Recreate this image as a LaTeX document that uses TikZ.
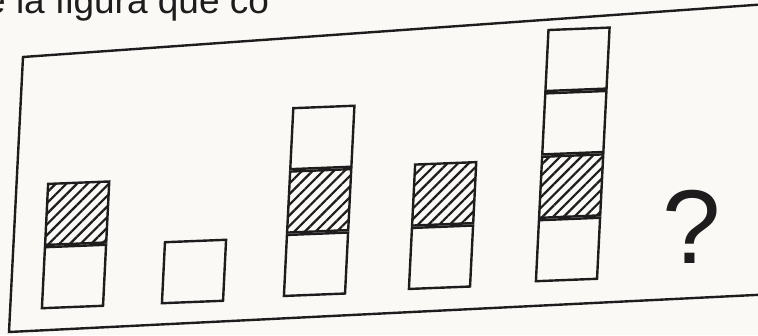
\documentclass[tikz,border=0pt]{standalone}
\usepackage{fontspec}
\setmainfont{Liberation Sans}
\usetikzlibrary{positioning,patterns.meta}
\definecolor{paper}{RGB}{251,249,246}
\definecolor{ink}{RGB}{30,28,28}
\tikzset{
  frameline/.style={ink,line width=2.4pt,line join=miter},
  cell/.style={draw=ink,line width=2.4pt,minimum width=61pt,minimum height=61pt,
               inner sep=0pt,xslant=0.05,yslant=0.04,transform shape},
  hatched/.style={cell,pattern={Lines[angle=45,distance=7.5pt,line width=2.2pt]},
                  pattern color=ink},
  ask/.style={font=\fontsize{105}{105}\selectfont,text=ink,inner sep=0pt},
  header/.style={font=\fontsize{37}{37}\selectfont,text=ink,inner sep=0pt},
}

\begin{document}
\begin{tikzpicture}[x=1pt,y=1pt]
  \fill[paper] (0,0) rectangle (758,335);
  \useasboundingbox (0,0) rectangle (758,335);
  \clip (0,0) rectangle (758,335);

  % cut-off line of the question above the frame
  \node[header,anchor=base west] (head) at (-15,321) {e la figura que co};

  % frame (photographed at a slant)
  \draw[frameline] (775,331.5) -- (23,278) -- (9,3) -- (775,41);

  % the five stacks, bottom cell first
  \node[cell] (a1) at (74,58.5) {};
  \node[hatched,above=0pt of a1] (a2) {};

  \node[cell] (b1) at (194,63.5) {};

  \node[cell] (c1) at (316,70.75) {};
  \node[hatched,above=0pt of c1] (c2) {};
  \node[cell,above=0pt of c2] (c3) {};

  \node[cell] (d1) at (441,77.75) {};
  \node[hatched,above=0pt of d1] (d2) {};

  \node[cell] (e1) at (568,85.5) {};
  \node[hatched,above=0pt of e1] (e2) {};
  \node[cell,above=0pt of e2] (e3) {};
  \node[cell,above=0pt of e3] (e4) {};

  \node[ask] (q) at (692,108) {?};
\end{tikzpicture}
\end{document}
